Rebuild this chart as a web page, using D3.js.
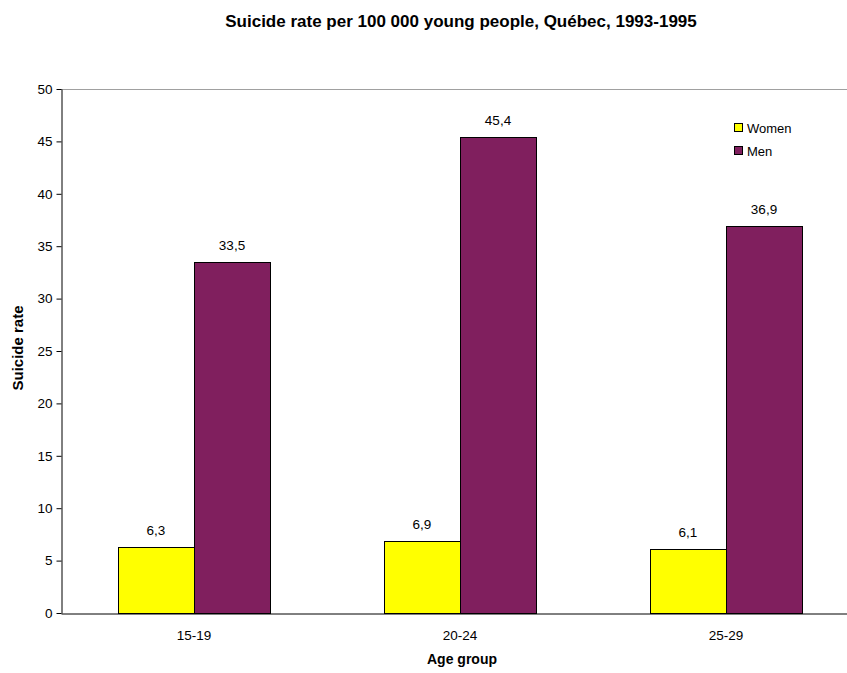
<!DOCTYPE html>
<html><head><meta charset="utf-8">
<script src="https://cdn.jsdelivr.net/npm/d3@7"></script>
<style>body{margin:0;background:#fff}svg{display:block}text{font-family:"Liberation Sans",Arial,sans-serif;fill:#000}</style>
</head><body>
<script>
const categories = ["15-19", "20-24", "25-29"];
const seriesNames = ["Women", "Men"];
const women = [6.3, 6.9, 6.1];
const men = [33.5, 45.4, 36.9];
const yTicks = [0, 5, 10, 15, 20, 25, 30, 35, 40, 45, 50];
const colors = ["#FFFF00", "#801F5E"];
const title = "Suicide rate per 100 000 young people, Québec, 1993-1995";

const W = 847, H = 673;
const mLeft = 61, mTop = 89, mBottom = 613, mRight = 859;
const svg = d3.select("body").append("svg").attr("width", W).attr("height", H);

const x = d3.scaleBand().domain(categories).range([mLeft, mRight]).paddingInner(0).paddingOuter(0);
const inner = d3.scaleBand().domain(seriesNames).range([0, x.bandwidth()]).paddingInner(0).paddingOuter(0.75);
const y = d3.scaleLinear().domain([0, 50]).range([mBottom, mTop]);

// top border of plot area
svg.append("line").attr("x1", mLeft).attr("x2", W).attr("y1", mTop + 0.5).attr("y2", mTop + 0.5)
  .attr("stroke", "#a0a0a0").attr("stroke-width", 1);

const data = categories.map((c, i) => ({cat: c, vals: [women[i], men[i]]}));
const g = svg.append("g");
data.forEach(d => {
  d.vals.forEach((v, j) => {
    const bx = x(d.cat) + inner(seriesNames[j]);
    g.append("rect").attr("x", Math.round(bx) + 0.5).attr("y", Math.round(y(v)) + 0.5)
      .attr("width", Math.round(inner.bandwidth())).attr("height", Math.round(y(0) - y(v)))
      .attr("fill", colors[j]).attr("stroke", "#000").attr("stroke-width", 1);
    g.append("text").attr("x", bx + inner.bandwidth() / 2).attr("y", y(v) - 12)
      .attr("text-anchor", "middle").attr("font-size", 13.5).text(String(v).replace(".", ","));
  });
});

// y axis
const yAxis = d3.axisLeft(y).tickValues(yTicks).tickSize(5).tickPadding(4).tickSizeOuter(0);
const ya = svg.append("g").attr("transform", `translate(${mLeft + 0.5},0)`).call(yAxis);
ya.select(".domain").attr("stroke", "#000");
ya.selectAll("line").attr("stroke", "#000");
ya.selectAll("text").attr("font-size", 13.5).attr("font-family", '"Liberation Sans",Arial,sans-serif');

// x axis
const xAxis = d3.axisBottom(x).tickSize(0).tickPadding(17).tickSizeOuter(0);
const xa = svg.append("g").attr("transform", `translate(0,${mBottom + 0.5})`).call(xAxis);
xa.select(".domain").attr("stroke", "#000");
xa.selectAll("text").attr("font-size", 13.5).attr("font-family", '"Liberation Sans",Arial,sans-serif');

// titles
svg.append("text").attr("x", 461).attr("y", 27).attr("text-anchor", "middle")
  .attr("font-size", 17).attr("font-weight", "bold").text(title);
svg.append("text").attr("x", 462).attr("y", 664).attr("text-anchor", "middle")
  .attr("font-size", 14).attr("font-weight", "bold").text("Age group");
svg.append("text").attr("transform", `translate(23,348) rotate(-90)`)
  .attr("text-anchor", "middle").attr("font-size", 15).attr("font-weight", "bold").text("Suicide rate");

// legend
const lg = svg.append("g");
seriesNames.forEach((s, i) => {
  lg.append("rect").attr("x", 734.5).attr("y", 123.5 + i * 23).attr("width", 8).attr("height", 8)
    .attr("fill", colors[i]).attr("stroke", "#000");
  lg.append("text").attr("x", 747).attr("y", 133 + i * 23).attr("font-size", 13).text(s);
});
</script>
</body></html>
